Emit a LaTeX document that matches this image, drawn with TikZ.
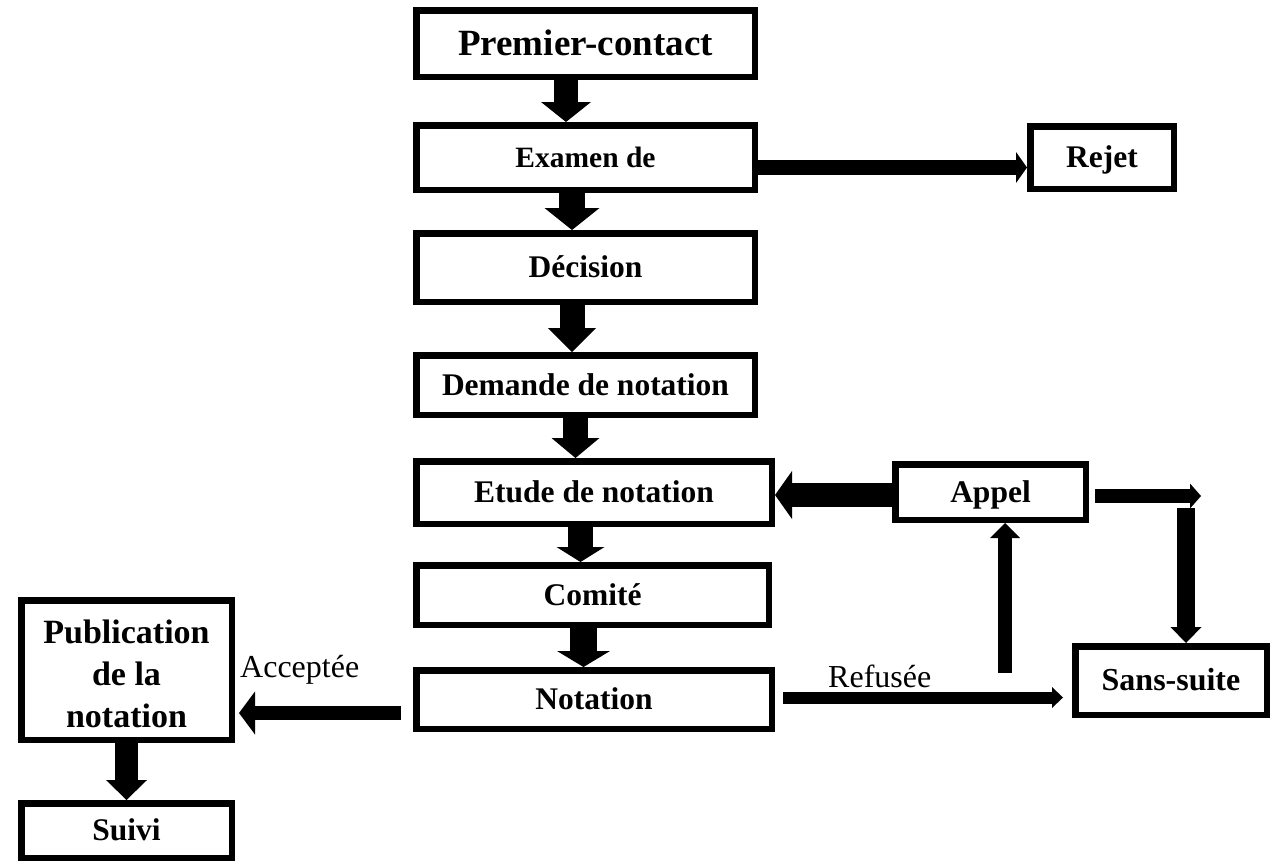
\documentclass[tikz,border=0pt]{standalone}
\usepackage{fontspec}
\setmainfont{Liberation Serif}
\usetikzlibrary{arrows.meta}
\begin{document}
\begin{tikzpicture}[x=1pt,y=-1pt,
  box/.style={draw, line width=6.5pt, inner sep=0pt, align=center,
    font=\fontsize{31.5}{38}\selectfont\bfseries, text height=20.9pt, text depth=0pt},
  sz/.style 2 args={minimum width=#1pt-6.5pt, minimum height=#2pt-6.5pt},
  lbl/.style={inner sep=0pt, font=\fontsize{32}{38}\selectfont},
  blk/.style n args={3}{line width=#1, line cap=butt,
    -{Triangle[width=#2, length=#3, line width=0pt]}},
]
\useasboundingbox (0,0) rectangle (1273,863);

% main column
\node[box, sz={345}{73}, font=\fontsize{37}{42}\selectfont\bfseries, text height=24.5pt] (pc) at (585.5,43.5) {Premier-contact};
\node[box, sz={345}{71}, font=\fontsize{29.5}{36}\selectfont\bfseries, text height=19.5pt] (ex) at (585.5,157.5) {Examen de};
\node[box, sz={345}{75}] (dec) at (585.5,267.5) {Décision};
\node[box, sz={345}{66}] (dem) at (585.5,385) {Demande de notation};
\node[box, sz={362}{69}] (etu) at (594,492.5) {Etude de notation};
\node[box, sz={359}{66}] (com) at (592.5,595) {Comité};
\node[box, sz={362}{65}] (nota) at (594,699.5) {Notation};

% side boxes
\node[box, sz={150}{69}] (rejet) at (1102,157.5) {Rejet};
\node[box, sz={197}{62}] (appel) at (990.5,492) {Appel};
\node[box, sz={198}{75}, font=\fontsize{32}{38}\selectfont\bfseries] (sans) at (1171,680.5) {Sans-suite};
\node[box, sz={217}{146}, font=\fontsize{34}{42}\selectfont\bfseries,
  text height=114pt, text depth=0pt] (pub) at (126.5,670) {Publication\\de la\\notation};
\node[box, sz={217}{61}] (suivi) at (126.5,830.5) {Suivi};

% labels
\node[lbl, anchor=base west] (acc) at (240,677) {Acceptée};
\node[lbl, anchor=base west] (ref) at (828,687) {Refusée};

% free ends
\coordinate (turn) at (1201,496);
\coordinate (dropstart) at (1186,508);
\coordinate (risestart) at (1005,673);

% vertical flow
\draw[blk={24pt}{50pt}{20pt}] ([xshift=-19.5pt]pc.south) -- ([xshift=-19.5pt]pc.south |- ex.north);
\draw[blk={26pt}{55pt}{22pt}] ([xshift=-13.5pt]ex.south) -- ([xshift=-13.5pt]ex.south |- dec.north);
\draw[blk={25pt}{48pt}{24pt}] ([xshift=-13.5pt]dec.south) -- ([xshift=-13.5pt]dec.south |- dem.north);
\draw[blk={25pt}{48pt}{20pt}] ([xshift=-10pt]dem.south) -- ([xshift=-10pt]dem.south |- etu.north);
\draw[blk={25pt}{48pt}{15pt}] ([xshift=-13.5pt]etu.south) -- ([xshift=-13.5pt]etu.south |- com.north);
\draw[blk={27pt}{53pt}{16pt}] ([xshift=-9pt]com.south) -- ([xshift=-9pt]com.south |- nota.north);
\draw[blk={23pt}{41pt}{20pt}] (pub.south) -- (suivi.north);

% branches
\draw[blk={15pt}{31pt}{11pt}] ([yshift=-10pt]ex.east) -- ([yshift=-10pt]ex.east -| rejet.west);
\draw[blk={24pt}{48pt}{17pt}] ([yshift=-3pt]appel.west) -- ([yshift=-3pt]appel.west -| etu.east);
\draw[blk={14pt}{25pt}{11pt}] ([xshift=6pt]appel.east |- turn) -- (turn);
\draw[blk={18pt}{31pt}{16pt}] (dropstart) -- (dropstart |- sans.north);
\draw[blk={14pt}{30pt}{15pt}] (risestart) -- (risestart |- appel.south);
\draw[blk={12pt}{21pt}{11pt}, shorten >=9pt] ([xshift=8pt,yshift=2pt]nota.east) -- ([yshift=2pt]nota.east -| sans.west);
\draw[blk={14pt}{43pt}{16pt}, shorten >=4pt] ([xshift=-12pt,yshift=-13.5pt]nota.west) -- ([yshift=-13.5pt]nota.west -| pub.east);
\end{tikzpicture}
\end{document}
